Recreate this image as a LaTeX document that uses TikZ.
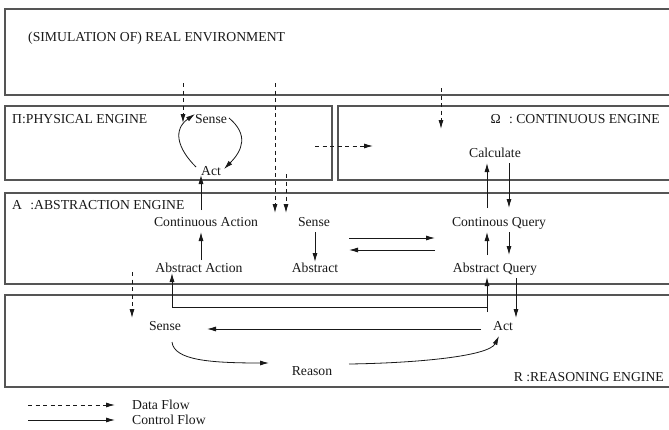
\documentclass[tikz,border=0pt]{standalone}
\usepackage{fontspec}
\setmainfont{Liberation Serif}
\usetikzlibrary{arrows.meta,positioning,calc}
\definecolor{boxgray}{RGB}{85,85,85}
\definecolor{inkblack}{RGB}{25,25,25}

\begin{document}
\begin{tikzpicture}[x=1pt, y=-1pt, font=\fontsize{13.7}{16}\selectfont, >={Latex[length=9pt,width=5pt]}, inkblack,
  engine/.style={draw=boxgray, line width=1.1pt},
  lbl/.style={inner sep=0pt},
  ctrl/.style={->, line width=0.8pt},
  data/.style={->, line width=0.8pt, dash pattern=on 4pt off 3.5pt}]
\useasboundingbox (0,0) rectangle (669,429);
\draw[engine](5,9) rectangle (690,95);
\draw[engine](5,106) rectangle (332,180);
\draw[engine](338,106) rectangle (690,180);
\draw[engine](5,193) rectangle (690,284);
\draw[engine](5,295) rectangle (690,387);
\node[lbl, anchor=west] (envlbl) at (28,38){(SIMULATION OF) REAL ENVIRONMENT};
\node[lbl, anchor=west] (physlbl) at (12,119){Π:PHYSICAL ENGINE};
\node[lbl, anchor=east] (contlbl) at (660,119){Ω\hspace{0.6em}: CONTINUOUS ENGINE};
\node[lbl, anchor=west] (abslbl) at (12,205){A\hspace{0.6em}:ABSTRACTION ENGINE};
\node[lbl, anchor=east] (reaslbl) at (664,377){R :REASONING ENGINE};
\node (psense) at (211,119){Sense};
\node (pact) at (211,171){Act};
\node (contact) at (206,222){Continuous Action};
\node (absaction) at (199,268){Abstract Action};
\node (asense) at (314,222){Sense};
\node (abstract) at (315,268){Abstract};
\node (calc) at (495,153){Calculate};
\node (contquery) at (499,223){Continous Query};
\node (absquery) at (495,269){Abstract Query};
\node (rsense) at (165,326){Sense};
\node (ract) at (503,326){Act};
\node (reason) at (312,371){Reason};
\draw[ctrl]($(pact)+(-15,-4)$) to[out=135,in=215,looseness=1.3] ($(psense)+(-16,-5)$);
\draw[ctrl]($(psense)+(18,-1)$) to[out=-40,in=45,looseness=1.3] ($(pact)+(13,-2)$);
\draw[ctrl]($(contact)+(-5,-12)$) -- ($(pact)+(-10,4)$);
\draw[ctrl]($(absaction)+(2,-8)$) -- ($(contact)+(-5,10)$);
\draw[ctrl]($(asense)+(1,10)$) -- ($(abstract)+(0,-6)$);
\draw[ctrl]($(asense)+(35,16)$) -- ($(contquery)+(-64,15)$);
\draw[ctrl]($(contquery)+(-64,27)$) -- ($(asense)+(35,28)$);
\draw[ctrl]($(contquery)+(-12,-15)$) -- ($(calc)+(-8,10)$);
\draw[ctrl]($(calc)+(14,10)$) -- ($(contquery)+(10,-15)$);
\draw[ctrl]($(absquery)+(-8,-14)$) -- ($(contquery)+(-12,9)$);
\draw[ctrl]($(contquery)+(10,9)$) -- ($(absquery)+(14,-14)$);
\draw[ctrl]($(ract)+(-16,-14)$) -- ($(absquery)+(-8,8)$);
\draw[ctrl]($(ract)+(-16,-19)$) -| ($(absaction)+(-27,5)$);
\draw[ctrl]($(absquery)+(21,9)$) -- ($(ract)+(13,-8)$);
\draw[ctrl]($(ract)+(-22,3)$) -- ($(rsense)+(42,3)$);
\draw[ctrl]($(rsense)+(7,16)$) .. controls +(2,18) and +(-60,0) .. ($(reason)+(-43,-8)$);
\draw[ctrl]($(reason)+(37,-7)$) .. controls +(70,-1) and +(-10,20) .. ($(ract)+(-4,10)$);
\draw[data]($(psense)+(-28,-36)$) -- ($(psense)+(-28,4)$);
\draw[data]($(asense)+(-39,-139)$) -- ($(asense)+(-39,-9)$);
\draw[data]($(asense)+(-28,-48)$) -- ($(asense)+(-28,-9)$);
\draw[data]($(calc)+(-54,-65)$) -- ($(calc)+(-54,-24)$);
\draw[data]($(psense)+(104,27)$) -- ($(psense)+(162,27)$);
\draw[data]($(rsense)+(-33,-54)$) -- ($(rsense)+(-33,-8)$);
\node[lbl, anchor=west] (legdata) at (132,405){Data Flow};
\node[lbl, anchor=west] (legctrl) at (132,420){Control Flow};
\draw[data]($(legdata.west)+(-104,0)$) -- ($(legdata.west)+(-17,0)$);
\draw[ctrl]($(legctrl.west)+(-104,0)$) -- ($(legctrl.west)+(-17,0)$);
\end{tikzpicture}
\end{document}
